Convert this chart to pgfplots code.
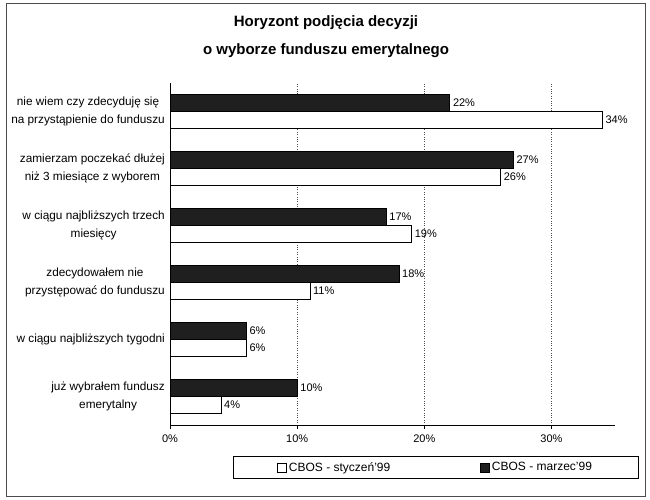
\documentclass[border=0pt]{standalone}
\usepackage{pgfplots}
\pgfplotsset{compat=1.18}
\usepackage{fontspec}
\setmainfont{Liberation Sans}
\begin{document}
\begin{tikzpicture}[x=1pt,y=1pt]
\path[use as bounding box] (0,0) rectangle (650,-500);
\draw[line width=1pt, black!70] (6,-4) rectangle (645,-496);
\node[font=\fontsize{15}{18}\selectfont\bfseries] at (326,-23) {Horyzont podjęcia decyzji};
\node[font=\fontsize{15}{18}\selectfont\bfseries] at (326,-51) {o wyborze funduszu emerytalnego};
\begin{axis}[
  at={(170pt,-425pt)}, anchor=south west,
  scale only axis, width=445pt, height=342pt,
  /pgf/number format/assume math mode=true,
  xbar, bar width=17pt,
  xmin=0, xmax=35, ymin=-0.5, ymax=5.5,
  axis x line=bottom, axis y line=left,
  axis line style={-},
  xtick={0,10,20,30},
  xticklabel={\pgfmathprintnumber{\tick}\%},
  xmajorgrids=true,
  grid style={dotted, black!70},
  ytick={0,1,2,3,4,5},
  yticklabels={{już wybrałem fundusz\\emerytalny},{w ciągu najbliższych tygodni},{zdecydowałem nie\\przystępować do funduszu},{w ciągu najbliższych trzech\\miesięcy},{zamierzam poczekać dłużej\\niż 3 miesiące z wyborem},{nie wiem czy zdecyduję się\\na przystąpienie do funduszu}},
  yticklabel style={align=center, font=\fontsize{11.8}{18}\selectfont, inner xsep=1pt},
  xticklabel style={font=\fontsize{11}{12}\selectfont, yshift=-2pt},
  minor ytick={-0.5,0.5,1.5,2.5,3.5,4.5,5.5},
  ytick style={draw=none},
  minor tick length=4pt,
  major tick length=4pt,
  tick align=outside,
  tick style={black},
  nodes near coords={\pgfmathprintnumber{\pgfplotspointmeta}\%},
  every node near coord/.append style={font=\fontsize{11}{12}\selectfont, anchor=west, inner xsep=3pt},
  legend columns=2,
  legend style={at={(0.597,-0.124)}, anchor=center, draw=black, line width=0.8pt,
    font=\fontsize{12}{14}\selectfont, inner xsep=44pt, inner ysep=4pt,
    /tikz/every even column/.append style={column sep=88pt}},
  legend image code/.code={\draw[#1, line width=0.6pt] (0pt,-4.5pt) rectangle (9pt,4.5pt);},
]
\addplot[draw=black, fill=white, line width=0.6pt, bar shift=-8.5pt] coordinates {(4,0) (6,1) (11,2) (19,3) (26,4) (34,5)};
\addlegendentry{CBOS - styczeń'99}
\addplot[draw=black, fill=black!88, line width=0.6pt, bar shift=8.5pt] coordinates {(10,0) (6,1) (18,2) (17,3) (27,4) (22,5)};
\addlegendentry{CBOS - marzec'99}
\end{axis}
\end{tikzpicture}
\end{document}
